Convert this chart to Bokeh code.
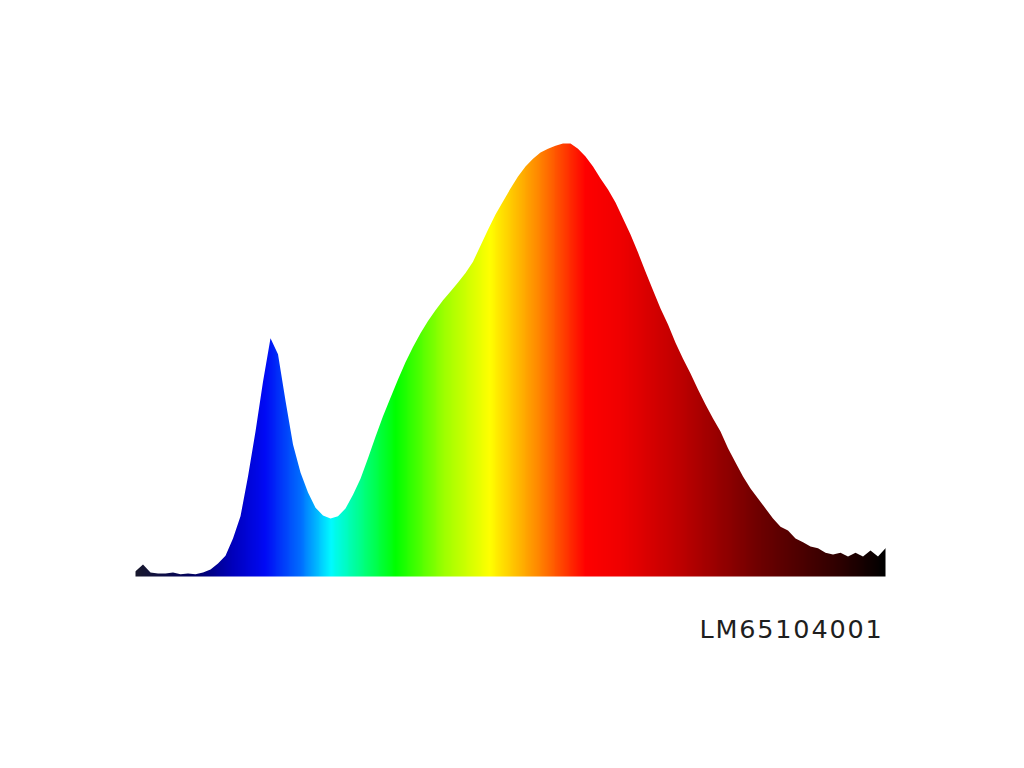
import numpy as np
from bokeh.plotting import figure
from bokeh.models import Range1d, Label
from bokeh.embed import file_html
from bokeh.resources import INLINE

# ---- data (relative spectral intensity, %) ----
wavelength = list(range(380, 781, 4))
intensity = [
    1.2, 2.8, 0.9, 0.7, 0.7, 0.9, 0.5, 0.7, 0.5, 0.9,      # 380-416
    1.6, 3.0, 4.8, 8.8, 13.9, 23.1, 33.5, 45.0, 55.0, 51.3,  # 420-456
    40.6, 30.5, 24.0, 19.4, 15.9, 14.1, 13.4, 13.9, 15.7, 18.9,  # 460-496
    22.6, 27.3, 32.3, 37.0, 41.3, 45.5, 49.5, 53.0, 56.2, 59.0,  # 500-536
    61.5, 63.8, 65.8, 67.9, 70.1, 72.7, 76.4, 80.1, 83.6, 86.6,  # 540-576
    89.6, 92.4, 94.7, 96.5, 97.9, 98.8, 99.5, 100.0, 100.0, 98.8,  # 580-616
    97.0, 94.7, 91.9, 89.4, 86.4, 82.7, 79.0, 74.8, 70.4, 66.1,  # 620-656
    61.9, 58.2, 54.0, 50.3, 46.9, 43.2, 39.7, 36.5, 33.5, 29.6,  # 660-696
    26.3, 23.1, 20.3, 18.0, 15.7, 13.4, 11.5, 10.6, 8.8, 7.9,    # 700-736
    6.9, 6.5, 5.5, 5.1, 5.5, 4.6, 5.5, 4.6, 6.0, 4.6,            # 740-776
    6.5,                                                          # 780
]
label_text = "LM65104001"

# colour ramp of the spectrum (wavelength -> rgb)
stop_nm = [380, 412, 430.7, 449, 468, 484, 501, 518.7, 545, 569, 596, 620, 638.7, 670.7, 713, 756, 780]
stop_r = [25, 0, 0, 0, 0, 0, 0, 0, 160, 255, 255, 255, 240, 190, 110, 45, 0]
stop_g = [25, 0, 0, 10, 110, 250, 255, 255, 255, 255, 130, 0, 0, 0, 0, 0, 0]
stop_b = [45, 100, 185, 245, 255, 255, 130, 0, 0, 0, 0, 0, 0, 0, 0, 0, 0]

# ---- layout ----
W, H = 1008, 752
PX_PER_NM = 1.875
PX_PER_UNIT = 4.33
frame_left_px = 135      # where 380 nm sits
base_px_from_top = 576   # where 0 sits
x0 = 380 - frame_left_px / PX_PER_NM
x1 = x0 + W / PX_PER_NM
y0 = -(H - base_px_from_top) / PX_PER_UNIT
y1 = base_px_from_top / PX_PER_UNIT

p = figure(width=W, height=H, output_backend="svg", toolbar_location=None,
           x_axis_location=None, y_axis_location=None,
           x_range=Range1d(x0, x1), y_range=Range1d(y0, y1),
           min_border=0, min_border_left=0, min_border_right=0,
           min_border_top=0, min_border_bottom=0)
p.outline_line_color = None
p.background_fill_color = "white"
p.border_fill_color = "white"
p.xgrid.visible = False
p.ygrid.visible = False
p.grid.visible = False

# gradient image spanning the spectrum
n = 801
cols = np.linspace(stop_nm[0], stop_nm[-1], n)
img = np.empty((1, n), dtype=np.uint32)
view = img.view(dtype=np.uint8).reshape((1, n, 4))
view[0, :, 0] = np.interp(cols, stop_nm, stop_r).astype(np.uint8)
view[0, :, 1] = np.interp(cols, stop_nm, stop_g).astype(np.uint8)
view[0, :, 2] = np.interp(cols, stop_nm, stop_b).astype(np.uint8)
view[0, :, 3] = 255
top = max(intensity) + 1.0
p.image_rgba(image=[img], x=wavelength[0], y=0,
             dw=wavelength[-1] - wavelength[0], dh=top - 0.4)

# white mask above the spectrum curve
pad = 1.0
mask_x = wavelength + [wavelength[-1] + pad, wavelength[-1] + pad,
                       wavelength[0] - pad, wavelength[0] - pad]
mask_y = intensity + [intensity[-1], top + 1, top + 1, intensity[0]]
p.patch(mask_x, mask_y, fill_color="white", line_color=None)

# label with letter spacing
adv = {"L": 0.557, "M": 0.863}
fs = 25.5
tracking = 1.8
sx = 699
for ch in label_text:
    p.add_layout(Label(x=sx, y=H - 628, x_units="screen", y_units="screen", text=ch,
                       text_font="DejaVu Sans", text_font_size=f"{fs}px",
                       text_color="#1e1e1e", text_align="left",
                       text_baseline="alphabetic"))
    sx += adv.get(ch, 0.636) * fs + tracking

open("out.html", "w").write(file_html(p, INLINE))
